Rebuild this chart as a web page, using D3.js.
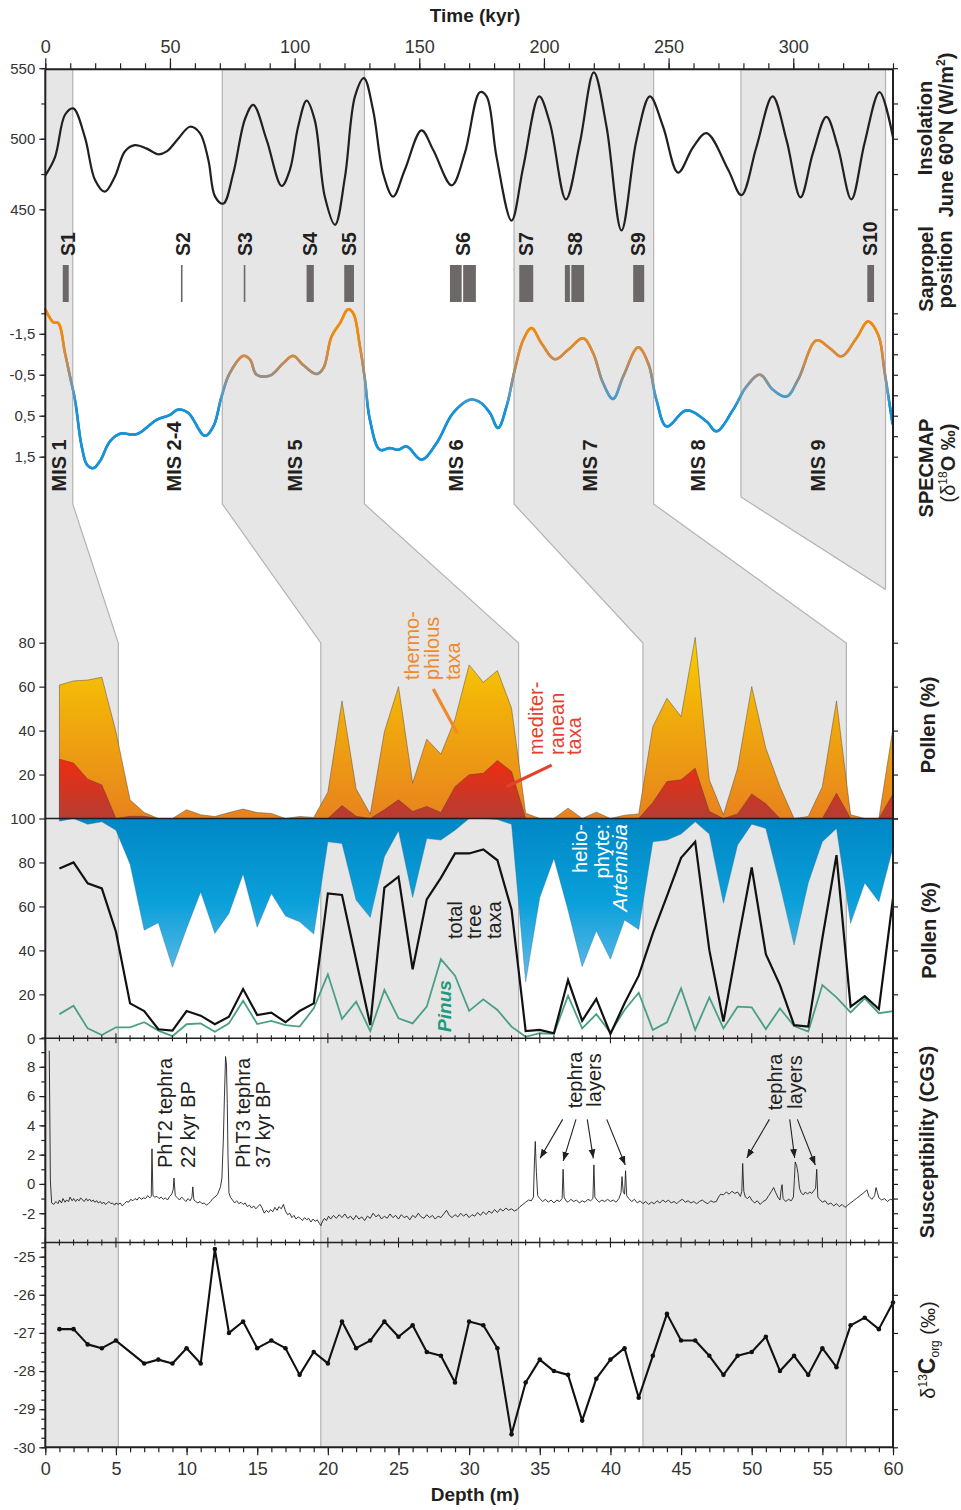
<!DOCTYPE html>
<html>
<head>
<meta charset="utf-8">
<title>Insolation, SPECMAP, pollen, susceptibility and carbon isotopes</title>
<script src="https://cdn.jsdelivr.net/npm/d3@7/dist/d3.min.js"></script>
<style>
html,body{margin:0;padding:0;background:#fff;}
svg{display:block;}
</style>
</head>
<body>
<svg id="chart" width="961" height="1510"></svg>
<script>
// ---------------- data ----------------
const timeTicks = [0, 50, 100, 150, 200, 250, 300];
const depthTicks = [0, 5, 10, 15, 20, 25, 30, 35, 40, 45, 50, 55, 60];
const insolTicks = [450, 500, 550];
const specTicks = [-1.5, -0.5, 0.5, 1.5];
const pollenTopTicks = [20, 40, 60, 80];
const pollenBottomTicks = [0, 20, 40, 60, 80, 100];
const suscTicks = [-2, 0, 2, 4, 6, 8];
const carbonTicks = [-30, -29, -28, -27, -26, -25];

// June insolation at 60°N (kyr, W/m²)
const insolTime = [0,3.9,7.9,11.2,15.9,19.9,23.9,27.9,31.9,35.9,40.7,45.3,48.7,53.3,58,62,65.4,68.1,71.4,75.4,80.1,83.4,88.8,94.8,98.1,101.4,104.8,108.1,112.1,116.2,120.2,124.2,127.8,131.5,135.5,139.5,144.2,150.9,155.6,163,168.3,174.3,177,181,187,191.7,198.1,202.4,208.8,214.4,220,225.1,231.1,237.1,242.5,247.8,253.8,259.8,265.2,273.9,279.2,285.2,291.7,297.3,302.9,307.9,313.3,317.9,323.3,328.6,334.6,340];
const insolValue = [474,487,517,521.5,501,471,462.5,473,491,495.5,493,489,491,500,508.5,504,485,459,454,475.5,514,524,499,466.5,478,508.5,527,513,459,439,473,530,543,520,475.5,459,478,506,492,467,490,533,530,487,442,480,530,511,457,497,547,508.5,435,499,530,508.5,476,494,504,478,460,494,530,499,458.5,490,515.5,494,457,497,533,501];

// SPECMAP δ18O stack (kyr, ‰)
const specTime = [0,3.2,5.2,7.9,9.9,11.9,14.6,16.8,19.2,21.9,25.9,30,36.6,44.7,50,53.3,57.3,64,67.4,70.7,74,79.4,82.1,84.8,90.1,95.4,99.4,103.4,108.8,111.5,114.8,118.2,121.5,123.5,126.2,128.2,130.2,134.2,138.2,141.5,144.9,150.9,156.9,163.6,170.3,174.3,178.3,181.6,185,188.3,191.7,195,199,204.4,209.7,215.7,219.7,223.7,227.7,231.8,237.8,241.8,245.1,249.2,257.2,265.2,269.2,275.9,281.2,286.6,291.9,297.3,301.9,309.3,314.6,319.3,325.3,330,334,336.7,339.8];
const specValue = [-2.1,-1.78,-1.76,-1.03,-0.46,0.11,1.25,1.7,1.78,1.61,1.13,0.94,0.95,0.6,0.48,0.35,0.43,0.99,0.76,0.03,-0.54,-0.96,-0.87,-0.5,-0.48,-0.78,-0.96,-0.74,-0.52,-0.66,-1.43,-1.76,-2.1,-2.0,-1.19,-0.38,0.6,1.33,1.29,1.33,1.25,1.57,1.17,0.43,0.11,0.17,0.43,0.8,0.27,-0.62,-1.35,-1.64,-1.27,-0.88,-1.11,-1.39,-1.03,-0.3,0.09,-0.46,-1.17,-0.78,0.11,0.76,0.37,0.64,0.88,0.35,-0.21,-0.5,-0.13,0.03,-0.38,-1.34,-1.15,-0.95,-1.39,-1.8,-1.48,-0.54,0.7];

// Sapropels: label position and layer extents (kyr)
const sapropelNames = ["S1","S2","S3","S4","S5","S6","S7","S8","S9","S10"];
const sapropelLabelAge = [9.1, 55.1, 80.1, 106.1, 121.8, 167.5, 193, 212.4, 237.6, 331];
const sapropelTop = [7, 54.4, 79.6, 104.8, 119.9, 162.3, 167.6, 190.1, 208.4, 211, 235.8, 329.7];
const sapropelBase = [9.4, 55.0, 80.2, 107.7, 123.8, 167, 172.7, 195.7, 210.4, 216.1, 240.2, 332.4];

// Marine isotope stages: boundaries in age (kyr) and in core depth (m)
const misNames = ["MIS 1","MIS 2-4","MIS 5","MIS 6","MIS 7","MIS 8","MIS 9"];
const misLabelAge = [5.6, 51.6, 100.1, 164.7, 218.4, 261.8, 309.9];
const stageAge = [0, 11, 71, 128, 188, 244, 279, 337];
const stageDepth = [0, 5.17, 19.5, 33.5, 42.3, 56.7, 65.4];

// Pollen samples (m) and percentages
const pollenDepth = [1,2,3,4,5,6,7,8,9,10,11,12,13,14,15,16,17,18,19,20,21,22,23,24,25,26,27,28,29,30,31,32,33,34,35,36,37,38,39,40,41,42,43,44,45,46,47,48,49,50,51,52,53,54,55,56,57,58,59,60];
const thermophilous = [60.8,62.6,63,64.3,39.5,8.5,2.7,0,0,4,1.7,0.9,2.7,4.3,2.7,2.3,0,0.9,0.5,12,53.5,13.5,2,39.5,60,16.1,36.1,29.3,45.2,69.9,62,67.3,50.2,2.4,0,0,4.7,0,2.9,0,1.5,2.1,41.8,54.7,46.4,82.4,17.6,1.7,22.9,60,32,14.5,0,0.9,14.5,53.5,1.7,0,0,41.1];
const mediterranean = [27,25.2,17.9,15.3,0,1,1,0,0,0,0,0,0,0,0,0,0,0,0,0,5.9,1,0,4,8.5,3.2,5.5,2.7,14.5,19.9,20.6,26.4,21.4,0,0,0,0,0,0,0,0,0,7.3,16.8,17.6,22.9,3.2,0,2.1,11.2,6.7,0,0,0,0,11.5,0,0,0,11.2];
const artemisia = [1.2,0,2.6,1.5,5.3,20.8,50.8,47.4,67.7,50,33.4,52.3,43.2,25.3,49.5,34.1,44.4,47,52.6,10.6,11.4,37.1,45,17.4,5.6,35.9,9.1,9.8,5.3,0,0,0.5,2.6,74.3,35.9,18.2,41.7,67.4,51.1,64,46.2,50.5,10.6,9.8,7.1,1.5,7.1,38.6,12.1,2.6,4.5,30.3,57.6,29.3,10.6,4.5,47.7,29.3,37.9,13.2];
const treeTaxa = [77.3,80,70.5,68.2,48.5,15.9,12.4,4.1,3.5,12.4,10.3,6.4,9.8,22.4,10.6,11.7,7.3,12.4,15.9,65.9,65.2,35.6,6,68.6,73.5,31.4,63.2,73,84.1,84.1,85.9,81,58.6,3.3,3.8,2.3,26.5,8,17.9,2,15.9,28.5,47.7,64.7,82.1,89.4,40.1,7.6,43.2,77.7,38.3,24.2,6,5.3,45.5,83.3,14.4,19.2,13.3,63.6];
const pinus = [11,14.8,4.5,1.5,5,5,7.3,3.5,1,6.4,6.8,3,6.8,17.1,6.5,7.9,6,5.3,13.6,29.1,8.8,16.7,3.3,22,9.1,6.8,14.4,36,28.5,12.5,17.7,12.9,5.3,0.7,2.3,2,19.4,4.5,11,2.6,12.9,20.7,3.8,7.3,22.7,3.8,18.6,4.5,14.4,14.1,4.2,13.6,5.6,3.1,24.2,18.6,11.8,18.2,11.4,12.4];

// Magnetic susceptibility log [depth m, CGS]
const susceptibility = [
[0.28,9.1],[0.36,0.2],[0.45,-1.3],[0.6,-1.4],[0.75,-1.2],[0.9,-1.35],[1.0,-1.1],[1.15,-1.3],[1.25,-1.0],[1.4,-1.25],[1.5,-1.1],[1.65,-1.2],[1.75,-0.9],[1.9,-1.15],[2.0,-1.0],[2.15,-1.2],[2.25,-1.05],[2.4,-1.15],[2.5,-0.95],[2.65,-1.1],[2.75,-1.2],[2.9,-1.0],[3.0,-1.15],[3.15,-1.05],[3.25,-1.2],[3.4,-1.1],[3.5,-1.25],[3.65,-1.15],[3.75,-1.3],[3.9,-1.2],[4.0,-1.35],[4.15,-1.25],[4.25,-1.4],[4.4,-1.3],[4.5,-1.2],[4.65,-1.35],[4.75,-1.3],[4.9,-1.45],[5.0,-1.3],
[5.15,-1.4],[5.3,-1.3],[5.45,-1.5],[5.6,-1.35],[5.75,-1.2],[5.9,-1.25],[6.05,-1.05],[6.2,-1.15],[6.35,-1.0],[6.5,-1.1],[6.65,-0.9],[6.8,-1.05],[6.95,-0.95],[7.1,-1.0],[7.25,-0.8],[7.4,-0.95],[7.5,-0.85],[7.55,2.4],[7.62,-0.8],[7.75,-0.9],[7.9,-0.85],[8.05,-1.0],[8.2,-0.9],[8.35,-1.05],[8.5,-0.95],[8.65,-1.1],[8.8,-0.85],[8.95,-0.7],[9.05,-0.4],[9.11,0.4],[9.2,-0.8],[9.35,-0.95],[9.5,-1.1],[9.65,-0.9],[9.8,-1.05],[9.95,-1.2],[10.1,-1.0],[10.25,-1.15],[10.38,-0.9],[10.44,-0.2],[10.52,-1.1],[10.65,-1.2],[10.8,-1.3],[10.95,-1.2],[11.1,-1.35],[11.25,-1.3],[11.4,-1.45],[11.55,-1.35],[11.7,-1.2],[11.85,-1.0],[12.0,-0.9],[12.2,-0.7],[12.4,-0.2],[12.5,0.4],[12.6,3.0],[12.68,6.0],[12.76,8.7],[12.82,8.2],[12.88,5.5],[12.93,2.0],[13.0,-0.6],[13.1,-0.9],
[13.25,-1.1],[13.4,-1.3],[13.55,-1.15],[13.7,-1.35],[13.85,-1.25],[14.0,-1.4],[14.15,-1.3],[14.3,-1.55],[14.45,-1.45],[14.6,-1.65],[14.75,-1.5],[14.9,-1.7],[15.05,-1.55],[15.2,-1.4],[15.35,-1.65],[15.5,-2.0],[15.65,-1.8],[15.8,-1.95],[15.95,-1.75],[16.1,-1.9],[16.25,-1.6],[16.4,-1.8],[16.55,-1.55],[16.7,-1.7],[16.85,-1.4],[17.0,-1.85],[17.15,-2.1],[17.3,-2.0],[17.45,-2.3],[17.6,-2.15],[17.75,-2.4],[17.9,-2.25],[18.05,-2.35],[18.2,-2.5],[18.35,-2.3],[18.5,-2.45],[18.65,-2.35],[18.8,-2.6],[18.95,-2.4],[19.1,-2.55],[19.25,-2.45],[19.4,-2.7],[19.5,-2.85],[19.6,-2.6],[19.75,-2.35],[19.9,-2.5],[20.05,-2.2],
[20.2,-2.4],[20.4,-2.15],[20.6,-2.35],[20.8,-2.1],[21.0,-2.3],[21.2,-2.05],[21.4,-2.35],[21.6,-2.2],[21.8,-2.45],[22.0,-2.15],[22.2,-2.4],[22.4,-2.25],[22.6,-2.5],[22.8,-2.2],[23.0,-2.35],[23.2,-2.0],[23.4,-2.25],[23.6,-2.1],[23.8,-2.4],[24.0,-2.2],[24.2,-2.35],[24.4,-2.05],[24.6,-2.3],[24.8,-2.15],[25.0,-2.4],[25.2,-2.1],[25.4,-2.3],[25.6,-2.2],[25.8,-2.45],[26.0,-2.15],[26.2,-2.3],[26.4,-2.0],[26.6,-2.25],[26.8,-2.35],[27.0,-2.1],[27.2,-2.3],[27.4,-2.15],[27.6,-2.4],[27.8,-2.2],[28.0,-2.3],[28.2,-2.05],[28.4,-1.8],[28.6,-2.15],[28.8,-2.3],[29.0,-2.1],[29.2,-2.25],[29.4,-2.0],[29.6,-2.2],[29.8,-2.05],[30.0,-2.3],[30.2,-2.1],[30.4,-2.2],[30.6,-1.95],[30.8,-2.15],[31.0,-1.9],[31.2,-2.1],[31.4,-1.85],[31.6,-2.0],[31.8,-1.75],[32.0,-1.95],[32.2,-1.7],[32.4,-1.85],[32.6,-1.65],[32.8,-1.8],[33.0,-1.7],[33.2,-1.85],[33.4,-1.75],[33.6,-1.55],[33.8,-1.4],[34.0,-1.25],[34.2,-1.1],[34.4,-1.15],[34.55,-0.9],[34.62,1.5],[34.68,2.9],[34.76,0.8],[34.85,-0.8],
[35.0,-1.0],[35.2,-1.2],[35.4,-1.05],[35.6,-1.25],[35.8,-1.1],[36.0,-1.3],[36.2,-1.1],[36.4,-1.2],[36.58,-1.0],[36.65,1.0],[36.72,-0.9],[36.85,-1.15],[37.0,-1.25],[37.2,-1.05],[37.4,-1.2],[37.6,-1.1],[37.8,-1.3],[38.0,-1.15],[38.2,-1.25],[38.4,-1.05],[38.6,-1.15],[38.76,-1.0],[38.83,1.3],[38.9,-0.9],[39.05,-1.1],[39.2,-1.25],[39.4,-1.1],[39.6,-1.2],[39.8,-1.05],[40.0,-1.2],[40.2,-1.1],[40.4,-1.25],[40.6,-1.0],[40.75,-0.6],[40.82,0.5],[40.9,-0.5],[41.0,-0.7],[41.07,0.9],[41.15,-0.8],[41.3,-1.0],[41.5,-1.2],[41.7,-1.05],[41.9,-1.3],[42.1,-1.15],[42.3,-1.35],[42.5,-1.2],[42.7,-1.4],[42.9,-1.25],[43.1,-1.35],[43.3,-1.15],[43.5,-1.3],[43.7,-1.1],[43.9,-1.25],[44.1,-1.1],[44.3,-1.3],[44.5,-1.2],[44.7,-1.35],[44.9,-1.15],[45.1,-1.05],[45.3,-1.25],[45.5,-1.15],[45.7,-1.3],[45.9,-1.2],[46.1,-1.35],[46.3,-1.2],[46.5,-1.1],[46.7,-1.25],[46.9,-1.35],[47.1,-1.15],[47.3,-1.25],[47.5,-1.2],[47.65,-0.9],[47.8,-0.7],[48.0,-0.75],[48.2,-0.55],[48.4,-0.7],[48.6,-0.5],[48.8,-0.65],[49.0,-0.55],[49.2,-0.85],[49.3,-0.5],[49.36,1.4],[49.44,-0.5],[49.55,-0.9],[49.7,-1.0],[49.85,-0.85],[50.0,-1.1],[50.2,-1.3],[50.4,-1.15],[50.6,-1.4],[50.8,-1.2],[51.0,-1.1],[51.2,-0.8],[51.4,-0.5],[51.55,-0.25],[51.7,-0.6],[51.85,-0.9],[52.0,-1.1],[52.08,-0.4],[52.15,-0.05],[52.22,-1.0],[52.4,-1.2],[52.6,-1.05],[52.8,-1.15],[52.95,-0.9],[53.02,0.3],[53.08,1.5],[53.18,1.25],[53.28,0.7],[53.38,-0.3],[53.5,-0.6],[53.65,-0.75],[53.8,-0.55],[53.95,-0.7],[54.1,-0.55],[54.25,-0.65],[54.4,-0.45],[54.52,-0.3],[54.6,1.0],[54.68,-0.9],[54.8,-1.05],[55.0,-1.25],[55.2,-1.15],[55.4,-1.4],[55.6,-1.3],[55.8,-1.5],[56.0,-1.35],[56.2,-1.55],[56.4,-1.4],[56.6,-1.6],[56.8,-1.45],[57.0,-1.3],[57.2,-1.15],[57.4,-1.0],[57.6,-0.85],[57.8,-0.7],[58.0,-0.55],[58.15,-0.4],[58.3,-0.85],[58.5,-1.05],[58.7,-0.8],[58.8,-0.25],[58.9,-0.6],[59.0,-0.95],[59.2,-1.1],[59.4,-1.0],[59.6,-1.2],[59.8,-1.05],[60.0,-1.1]
];

// δ13C of organic matter (m, ‰)
const carbonDepth = [1,2,3,4,5,7,8,9,10,11,12,13,14,15,16,17,18,19,20,21,22,23,24,25,26,27,28,29,30,31,32,33,34,35,36,37,38,39,40,41,42,43,44,45,46,47,48,49,50,51,52,53,54,55,56,57,58,59,60];
const carbonValue = [-26.9,-26.9,-27.3,-27.4,-27.2,-27.8,-27.7,-27.8,-27.4,-27.8,-24.8,-27.0,-26.7,-27.4,-27.2,-27.4,-28.1,-27.5,-27.8,-26.7,-27.4,-27.2,-26.7,-27.1,-26.8,-27.5,-27.6,-28.3,-26.7,-26.8,-27.4,-29.66,-28.3,-27.7,-28.0,-28.1,-29.3,-28.2,-27.7,-27.4,-28.7,-27.6,-26.5,-27.2,-27.2,-27.6,-28.1,-27.6,-27.5,-27.1,-28.0,-27.6,-28.1,-27.4,-27.9,-26.8,-26.6,-26.9,-26.2];

// tephra arrows [depth from, value from, depth to, value to]
const tephraArrows = [[36.62,4.41,35.02,1.75],[37.56,4.41,36.66,1.57],[38.36,4.41,38.79,1.75],[39.74,4.41,41.05,1.29],
                      [51.25,4.41,49.65,1.77],[52.69,4.41,53.04,1.77],[53.23,4.41,54.5,1.29]];

// ---------------- layout ----------------
const FONT = '"Liberation Sans", Arial, Helvetica, sans-serif';
const INK = "#231f20";
const svg = d3.select("#chart").attr("font-family", FONT);
const X0 = 45.3, X1 = 893, Y_TOP = 69.3, Y_BOTTOM = 1447.3;
const SLANT_Y0 = 504, SLANT_Y1 = 643;

const xT = d3.scaleLinear().domain([0, 340]).range([X0, X1]);
const xD = d3.scaleLinear().domain([0, 60]).range([X0, X1]);
const yIns = d3.scaleLinear().domain([450, 550]).range([209.3, 68.2]);
const ySpec = d3.scaleLinear().domain([-2, 1.5]).range([313.3, 456.7]);
const yPT = d3.scaleLinear().domain([0, 80]).range([818.5, 642.7]);
const yPB = d3.scaleLinear().domain([0, 100]).range([1038.3, 818.5]);
const ySus = d3.scaleLinear().domain([-4, 10]).range([1242.5, 1037.5]);
const yC = d3.scaleLinear().domain([-30, -25]).range([1447.3, 1256.7]);

const defs = svg.append("defs");
defs.append("clipPath").attr("id", "mis9Clip").append("rect")
  .attr("x", X0).attr("y", Y_TOP).attr("width", xT(stageAge[7]) - X0).attr("height", Y_BOTTOM - Y_TOP);

function grad(id, y1, y2, stops) {
  const g = defs.append("linearGradient").attr("id", id).attr("gradientUnits", "userSpaceOnUse")
    .attr("x1", 0).attr("x2", 0).attr("y1", y1).attr("y2", y2);
  stops.forEach(s => g.append("stop").attr("offset", s[0]).attr("stop-color", s[1]));
}
grad("gThermo", yPT(82), yPT(0), [[0, "#f9cf00"], [0.45, "#f0aa0c"], [1, "#e8821e"]]);
grad("gMed", yPT(28), yPT(0), [[0, "#f22c0e"], [1, "#b53d33"]]);
grad("gArt", yPB(100), yPB(24), [[0, "#0087c6"], [0.5, "#0aa0da"], [1, "#6bbce8"]]);

defs.append("marker").attr("id", "arrowHead").attr("viewBox", "0 0 10 10")
  .attr("refX", 10).attr("refY", 5).attr("markerWidth", 9).attr("markerHeight", 9)
  .attr("markerUnits", "userSpaceOnUse").attr("orient", "auto")
  .append("path").attr("d", "M0,1.2 L10,5 L0,8.8 Z").attr("fill", INK);

// ---------------- stage bands ----------------
function stageEdge(i) {
  const top = i === 6 ? 497 : SLANT_Y0;
  return [[xT(stageAge[i]), Y_TOP], [xT(stageAge[i]), top], [xD(stageDepth[i]), SLANT_Y1], [xD(stageDepth[i]), Y_BOTTOM]];
}
const bandG = svg.append("g");
const poly = pts => "M" + pts.map(p => p.join(",")).join("L") + "Z";
const pline = pts => "M" + pts.map(p => p.join(",")).join("L");
[[0, 1], [2, 3], [4, 5]].forEach(([a, b]) => {
  bandG.append("path").attr("d", poly(stageEdge(a).concat(stageEdge(b).reverse()))).attr("fill", "#e6e6e6");
});
const e6 = stageEdge(6);
bandG.append("path").attr("clip-path", "url(#mis9Clip)")
  .attr("d", poly([e6[0], e6[1], e6[2], [e6[2][0], Y_TOP]])).attr("fill", "#e6e6e6");
for (let i = 1; i <= 6; i++) {
  bandG.append("path").attr("d", pline(stageEdge(i))).attr("fill", "none")
    .attr("stroke", "#b3b3b3").attr("stroke-width", 1.2)
    .attr("clip-path", i === 6 ? "url(#mis9Clip)" : null);
}
{
  const xr = xT(stageAge[7]);
  const t = (xr - e6[1][0]) / (e6[2][0] - e6[1][0]);
  const yCut = e6[1][1] + t * (e6[2][1] - e6[1][1]);
  bandG.append("line").attr("x1", xr).attr("x2", xr).attr("y1", Y_TOP).attr("y2", yCut)
    .attr("stroke", "#b3b3b3").attr("stroke-width", 1.2);
}

// ---------------- insolation ----------------
svg.append("path")
  .attr("d", d3.line().x(i => xT(insolTime[i])).y(i => yIns(insolValue[i]))
    .curve(d3.curveCatmullRom.alpha(0.5))(d3.range(insolTime.length)))
  .attr("fill", "none").attr("stroke", INK).attr("stroke-width", 2.2);

// ---------------- sapropels ----------------
svg.append("g").selectAll("rect").data(sapropelTop).join("rect")
  .attr("x", (d, i) => xT(d))
  .attr("width", (d, i) => Math.max(xT(sapropelBase[i]) - xT(d), 1.6))
  .attr("y", 265).attr("height", 37).attr("fill", "#6d6868");

function vtext(x, y, str, o = {}) {
  return svg.append("text")
    .attr("transform", `translate(${x},${y}) rotate(-90)`)
    .attr("text-anchor", o.anchor || "middle").attr("dy", "0.35em")
    .attr("font-size", o.size || 20).attr("font-weight", o.weight || "normal")
    .attr("font-style", o.style || "normal").attr("fill", o.fill || INK)
    .text(str);
}
sapropelNames.forEach((s, i) => vtext(xT(sapropelLabelAge[i]), 256, s, { anchor: "start", size: 19.5, weight: "bold" }));

// ---------------- SPECMAP (colour follows value) ----------------
{
  const specColor = d3.scaleLinear().domain([-1.6, -1.0, -0.5, -0.1, 0.35])
    .range(["#f08a10", "#d68a40", "#9c8e80", "#5f9cc2", "#1a92d6"]).clamp(true);
  const tmp = svg.append("path")
    .attr("d", d3.line().x(i => xT(specTime[i])).y(i => ySpec(specValue[i]))
      .curve(d3.curveCatmullRom.alpha(0.5))(d3.range(specTime.length)))
    .attr("fill", "none");
  const node = tmp.node(), len = node.getTotalLength();
  const pts = [];
  for (let s = 0; s <= len; s += 1.2) pts.push(node.getPointAtLength(s));
  pts.push(node.getPointAtLength(len));
  tmp.remove();
  const g = svg.append("g").attr("stroke-width", 2.6).attr("stroke-linecap", "round");
  for (let i = 0; i < pts.length - 1; i++) {
    g.append("line").attr("x1", pts[i].x).attr("y1", pts[i].y).attr("x2", pts[i + 1].x).attr("y2", pts[i + 1].y)
      .attr("stroke", specColor(ySpec.invert((pts[i].y + pts[i + 1].y) / 2)));
  }
}
misNames.forEach((s, i) => vtext(xT(misLabelAge[i]), 491.5, s, { anchor: "start", size: 20, weight: "bold" }));

// ---------------- pollen ----------------
const idx = d3.range(pollenDepth.length);
const pol = svg.append("g");
pol.append("path")
  .attr("d", d3.area().x(i => xD(pollenDepth[i])).y0(yPT(0)).y1(i => yPT(thermophilous[i]))(idx))
  .attr("fill", "url(#gThermo)").attr("stroke", "#5a4a3a").attr("stroke-width", 0.5);
pol.append("path")
  .attr("d", d3.area().x(i => xD(pollenDepth[i])).y0(yPT(0)).y1(i => yPT(mediterranean[i]))(idx))
  .attr("fill", "url(#gMed)").attr("stroke", "#5a3a3a").attr("stroke-width", 0.5);
pol.append("path")
  .attr("d", d3.area().x(i => xD(pollenDepth[i])).y0(yPB(100)).y1(i => yPB(100 - artemisia[i]))(idx))
  .attr("fill", "url(#gArt)").attr("stroke", "#2f6f95").attr("stroke-width", 0.4);
pol.append("path")
  .attr("d", d3.line().x(i => xD(pollenDepth[i])).y(i => yPB(pinus[i]))(idx))
  .attr("fill", "none").attr("stroke", "#4a9f86").attr("stroke-width", 1.8);
pol.append("path")
  .attr("d", d3.line().x(i => xD(pollenDepth[i])).y(i => yPB(treeTaxa[i]))(idx))
  .attr("fill", "none").attr("stroke", "#111").attr("stroke-width", 2.2);

// pollen annotations
const ORANGE = "#ef8a2a", RED = "#e6402c";
[["thermo-", 25.92], ["philous", 27.37], ["taxa", 28.89]].forEach(([s, d]) => vtext(xD(d), yPT(63), s, { anchor: "start", fill: ORANGE }));
svg.append("line").attr("x1", xD(27.46)).attr("y1", yPT(58.9)).attr("x2", xD(29.16)).attr("y2", yPT(38.8))
  .attr("stroke", ORANGE).attr("stroke-width", 3.2);
[["mediter-", 34.73], ["ranean", 36.22], ["taxa", 37.42]].forEach(([s, d]) => vtext(xD(d), yPT(28.9), s, { anchor: "start", fill: RED }));
svg.append("line").attr("x1", xD(35.84)).attr("y1", yPT(24.3)).attr("x2", xD(32.66)).attr("y2", yPT(14.5))
  .attr("stroke", RED).attr("stroke-width", 3.2);
vtext(xD(37.85), yPB(97.5), "helio-", { anchor: "end", fill: "#fff" });
vtext(xD(39.4), yPB(97.5), "phyte:", { anchor: "end", fill: "#fff" });
vtext(xD(40.68), yPB(97.5), "Artemisia", { anchor: "end", fill: "#fff", style: "italic", size: 21 });
[["total", 29.0], ["tree", 30.34], ["taxa", 31.76]].forEach(([s, d]) => vtext(xD(d), yPB(45.2), s, { anchor: "start" }));
vtext(xD(28.26), yPB(2.9), "Pinus", { anchor: "start", fill: "#1f9a7d", style: "italic", weight: "bold", size: 19 });

// ---------------- susceptibility ----------------
svg.append("path")
  .attr("d", d3.line().x(d => xD(d[0])).y(d => ySus(d[1]))(susceptibility))
  .attr("fill", "none").attr("stroke", INK).attr("stroke-width", 0.9).attr("stroke-linejoin", "round");

vtext(xD(8.47), ySus(1.09), "PhT2 tephra", { anchor: "start" });
vtext(xD(10.1), ySus(1.09), "22 kyr BP", { anchor: "start" });
vtext(xD(14.0), ySus(1.09), "PhT3 tephra", { anchor: "start" });
vtext(xD(15.4), ySus(1.09), "37 kyr BP", { anchor: "start" });
vtext(xD(37.5), ySus(7.1), "tephra");
vtext(xD(38.84), ySus(7.1), "layers");
vtext(xD(51.65), ySus(6.96), "tephra");
vtext(xD(53.07), ySus(6.96), "layers");
svg.append("g").selectAll("line").data(tephraArrows).join("line")
  .attr("x1", d => xD(d[0])).attr("y1", d => ySus(d[1]))
  .attr("x2", d => xD(d[2])).attr("y2", d => ySus(d[3]))
  .attr("stroke", INK).attr("stroke-width", 1.1).attr("marker-end", "url(#arrowHead)");

// ---------------- δ13C ----------------
const cIdx = d3.range(carbonDepth.length);
svg.append("path")
  .attr("d", d3.line().x(i => xD(carbonDepth[i])).y(i => yC(carbonValue[i]))(cIdx))
  .attr("fill", "none").attr("stroke", "#111").attr("stroke-width", 2.1).attr("stroke-linejoin", "round");
svg.append("g").selectAll("circle").data(cIdx).join("circle")
  .attr("cx", i => xD(carbonDepth[i])).attr("cy", i => yC(carbonValue[i])).attr("r", 2.3).attr("fill", "#111");

// ---------------- axes ----------------
function axis(gen, scale, values, size, fmt, tx, ty, fontSize, pad) {
  const g = svg.append("g").attr("transform", `translate(${tx},${ty})`)
    .call(gen(scale).tickValues(values).tickSize(size).tickPadding(pad == null ? 4 : pad).tickFormat(fmt || (() => "")));
  g.select(".domain").remove();
  g.attr("font-family", FONT).attr("font-size", fontSize || 15);
  g.selectAll("line").attr("stroke", INK).attr("stroke-width", 1.2);
  g.selectAll("text").attr("fill", "#333");
  return g;
}
const num = d => String(d);
const comma = d => String(d).replace(".", ",");
const stepRange = (a, b, s) => { const out = []; for (let v = a; v <= b + 1e-9; v += s) out.push(+v.toFixed(3)); return out; };

// left
axis(d3.axisLeft, yIns, stepRange(450, 550, 25), 4, null, X0, 0);
axis(d3.axisLeft, yIns, insolTicks, 6, num, X0, 0, 15, 4);
axis(d3.axisLeft, ySpec, stepRange(-2, 1.5, 0.5), 4, null, X0, 0);
axis(d3.axisLeft, ySpec, specTicks, 6, comma, X0, 0, 15, 4);
axis(d3.axisLeft, yPT, pollenTopTicks, 6, num, X0, 0, 15, 4);
axis(d3.axisLeft, yPB, pollenBottomTicks, 6, num, X0, 0, 15, 4);
axis(d3.axisLeft, ySus, stepRange(-4, 10, 1), 4, null, X0, 0);
axis(d3.axisLeft, ySus, suscTicks, 6, num, X0, 0, 15, 4);
axis(d3.axisLeft, yC, stepRange(-30, -24.75, 0.25), 4, null, X0, 0);
axis(d3.axisLeft, yC, carbonTicks, 6, num, X0, 0, 15, 4);
// right
axis(d3.axisRight, yIns, stepRange(450, 550, 25), 5, null, X1, 0);
axis(d3.axisRight, ySpec, stepRange(-2, 1.5, 0.5), 5, null, X1, 0);
axis(d3.axisRight, yPT, [0, 20, 40, 60, 80], 5, null, X1, 0);
axis(d3.axisRight, yPB, pollenBottomTicks, 5, null, X1, 0);
axis(d3.axisRight, ySus, stepRange(-4, 10, 1), 5, null, X1, 0);
axis(d3.axisRight, yC, carbonTicks, 5, null, X1, 0);
// top (time)
axis(d3.axisTop, xT, stepRange(0, 340, 10), 6, null, 0, Y_TOP);
axis(d3.axisTop, xT, timeTicks, 11, num, 0, Y_TOP, 18, 5);
// bottom (depth)
axis(d3.axisBottom, xD, stepRange(0, 60, 1), 5, null, 0, Y_BOTTOM);
axis(d3.axisBottom, xD, depthTicks, 8, num, 0, Y_BOTTOM, 18, 7);
// inner depth ticks crossing the panel dividers
[yPB(0), ySus(-4)].forEach(y => {
  svg.append("g").selectAll("line").data(stepRange(0, 60, 1)).join("line")
    .attr("x1", d => xD(d)).attr("x2", d => xD(d))
    .attr("y1", d => y - (d % 5 === 0 ? 5 : 3)).attr("y2", d => y + (d % 5 === 0 ? 5 : 3))
    .attr("stroke", INK).attr("stroke-width", 1.1);
});

// frame lines
const frame = svg.append("g").attr("stroke", INK).attr("fill", "none");
frame.append("line").attr("x1", X0).attr("x2", X0).attr("y1", Y_TOP).attr("y2", Y_BOTTOM).attr("stroke-width", 2);
frame.append("line").attr("x1", X1).attr("x2", X1).attr("y1", Y_TOP).attr("y2", Y_BOTTOM).attr("stroke-width", 2);
frame.append("line").attr("x1", X0).attr("x2", X1).attr("y1", Y_TOP).attr("y2", Y_TOP).attr("stroke-width", 2);
frame.append("line").attr("x1", X0).attr("x2", X1).attr("y1", Y_BOTTOM).attr("y2", Y_BOTTOM).attr("stroke-width", 2);
[yPT(0), yPB(0), ySus(-4)].forEach(y =>
  frame.append("line").attr("x1", X0).attr("x2", X1).attr("y1", y).attr("y2", y).attr("stroke-width", 1.6));

// ---------------- titles ----------------
svg.append("text").attr("x", 475).attr("y", 22).attr("text-anchor", "middle")
  .attr("font-size", 19).attr("font-weight", "bold").attr("fill", INK).text("Time (kyr)");
svg.append("text").attr("x", 475).attr("y", 1501).attr("text-anchor", "middle")
  .attr("font-size", 19).attr("font-weight", "bold").attr("fill", INK).text("Depth (m)");

const B = { weight: "bold", size: 20 };
vtext(925, 128, "Insolation", B);
{
  const t = vtext(945.5, 135, "June 60°N (W/m", B);
  t.append("tspan").attr("font-size", 12).attr("dy", -8).text("2");
  t.append("tspan").attr("dy", 8).text(")");
}
vtext(925.5, 269, "Sapropel", B);
vtext(945, 269.5, "position", B);
vtext(925.5, 468, "SPECMAP", B);
{
  const t = vtext(947.5, 463, "(δ", { size: 20 });
  t.append("tspan").attr("font-size", 12).attr("dy", -8).text("18");
  t.append("tspan").attr("dy", 8).attr("font-weight", "bold").text("O ‰)");
}
vtext(927.5, 725, "Pollen (%)", B);
vtext(928.5, 930.5, "Pollen (%)", B);
vtext(926.5, 1142, "Susceptibility (CGS)", B);
{
  const t = vtext(928, 1350, "δ", { size: 20 });
  t.append("tspan").attr("font-size", 12).attr("dy", -8).text("13");
  t.append("tspan").attr("font-size", 23).attr("font-weight", "bold").attr("dy", 8).text("C");
  t.append("tspan").attr("font-size", 12).attr("dy", 4).text("org");
  t.append("tspan").attr("font-size", 20).attr("dy", -4).text(" (‰)");
}
</script>
</body>
</html>
